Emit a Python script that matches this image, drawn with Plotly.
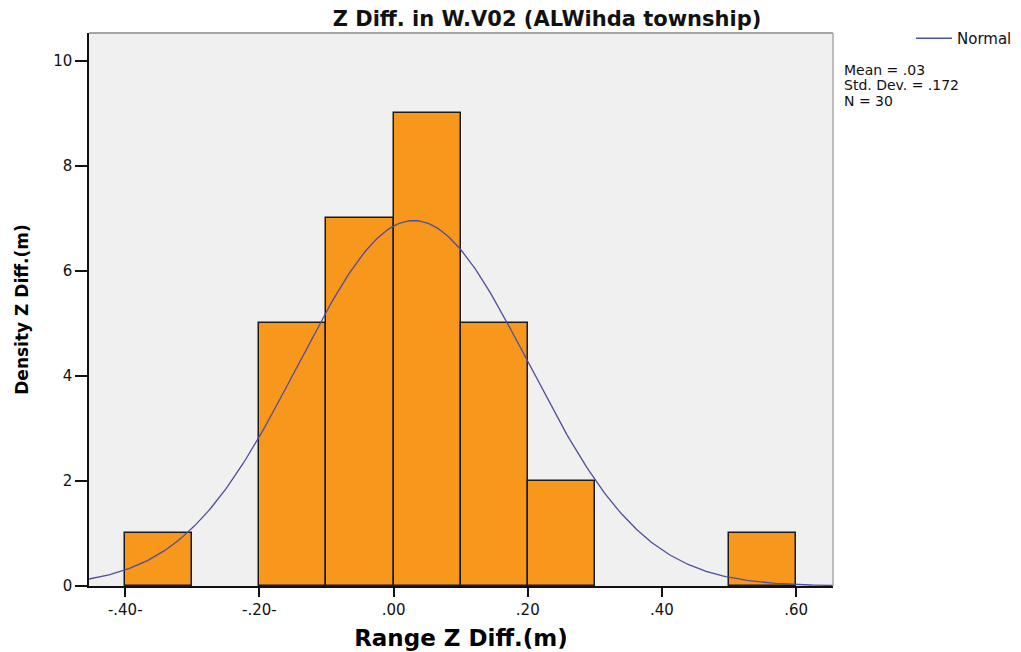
import numpy as np
import plotly.graph_objects as go

# Histogram data (bin left edges, bin width 0.1) and counts
bin_lefts = [-0.4, -0.2, -0.1, 0.0, 0.1, 0.2, 0.5]
counts = [1, 5, 7, 9, 5, 2, 1]
bin_width = 0.1

# Summary statistics shown on the chart
mean = 0.03
std_dev = 0.172
n_obs = 30
stat_lines = ["Mean = .03", "Std. Dev. = .172", "N = 30"]

x_ticks = [-0.4, -0.2, 0.0, 0.2, 0.4, 0.6]
x_tick_labels = ["-.40-", "-.20-", ".00", ".20", ".40", ".60"]
y_ticks = [0, 2, 4, 6, 8, 10]

x_range = [-0.454, 0.655]
y_range = [0, 10.53]

centers = [b + bin_width / 2 for b in bin_lefts]

# Normal curve scaled to counts (from the stated mean, sd, N)
xc = np.linspace(x_range[0], x_range[1], 300)
yc = n_obs * bin_width / (std_dev * np.sqrt(2 * np.pi)) * np.exp(-0.5 * ((xc - mean) / std_dev) ** 2)

FONT = "DejaVu Sans, Arial, sans-serif"

# page is shown with an 8px body margin -> figure sized to fill the rest
W, H = 1013, 644
L, T, R, B = 81, 25, 188, 66
PW, PH = W - L - R, H - T - B

fig = go.Figure()
fig.add_trace(go.Bar(
    x=centers, y=counts, width=bin_width,
    marker=dict(color="#F7981D", line=dict(color="#1a1a1a", width=1.5)),
    showlegend=False, hoverinfo="x+y",
))
fig.add_trace(go.Scatter(
    x=xc, y=yc, mode="lines", name="Normal",
    line=dict(color="#4E4E9E", width=1.3),
))

fig.update_layout(
    width=W, height=H,
    margin=dict(l=L, r=R, t=T, b=B, autoexpand=False),
    paper_bgcolor="white",
    plot_bgcolor="#F0F0F0",
    font=dict(family=FONT, color="black"),
    bargap=0,
    title=dict(
        text="<b>Z Diff. in W.V02 (ALWihda township)</b>",
        x=539 / W, xanchor="center", xref="container",
        y=1 - 3 / H, yanchor="top", yref="container",
        font=dict(size=21, family=FONT, color="#111"),
    ),
    legend=dict(
        x=903 / W, xanchor="left", xref="container",
        y=1 - 14 / H, yanchor="top", yref="container",
        bgcolor="rgba(0,0,0,0)", font=dict(size=15, family=FONT, color="#111"),
        itemwidth=36,
    ),
    showlegend=True,
)

fig.update_xaxes(
    range=x_range, tickvals=x_ticks, ticktext=x_tick_labels,
    showgrid=False, zeroline=False, automargin=False,
    showline=True, linecolor="#111", linewidth=1.5,
    ticks="outside", ticklen=9, tickwidth=1.5, tickcolor="#111",
    tickfont=dict(size=15, family=FONT, color="#111"),
    title=dict(text="<b>Range Z Diff.(m)</b>", font=dict(size=23, family=FONT), standoff=12),
)
fig.update_yaxes(
    range=y_range, tickvals=y_ticks,
    showgrid=False, zeroline=False, automargin=False,
    showline=True, linecolor="#111", linewidth=1.5,
    ticks="outside", ticklen=12, tickwidth=1.5, tickcolor="#111",
    tickfont=dict(size=15, family=FONT, color="#111"),
    title=dict(text="<b>Density Z Diff.(m)</b>", font=dict(size=17, family=FONT), standoff=20),
)

# top and right frame lines (gray)
fig.add_shape(type="line", xref="paper", yref="paper", x0=0, x1=1, y0=1, y1=1,
              line=dict(color="#888", width=1.5))
fig.add_shape(type="line", xref="paper", yref="paper", x0=1, x1=1, y0=0, y1=1,
              line=dict(color="#aaa", width=1.5))

# statistics text
for i, line in enumerate(stat_lines):
    ypix = 62 + i * 15.5
    fig.add_annotation(
        xref="paper", yref="paper", x=(835 - L) / PW, y=(H - B - ypix) / PH,
        xanchor="left", yanchor="middle",
        text=line, showarrow=False, align="left",
        font=dict(size=14, family=FONT, color="#111"),
        borderpad=0,
    )

fig.write_html("out.html")
